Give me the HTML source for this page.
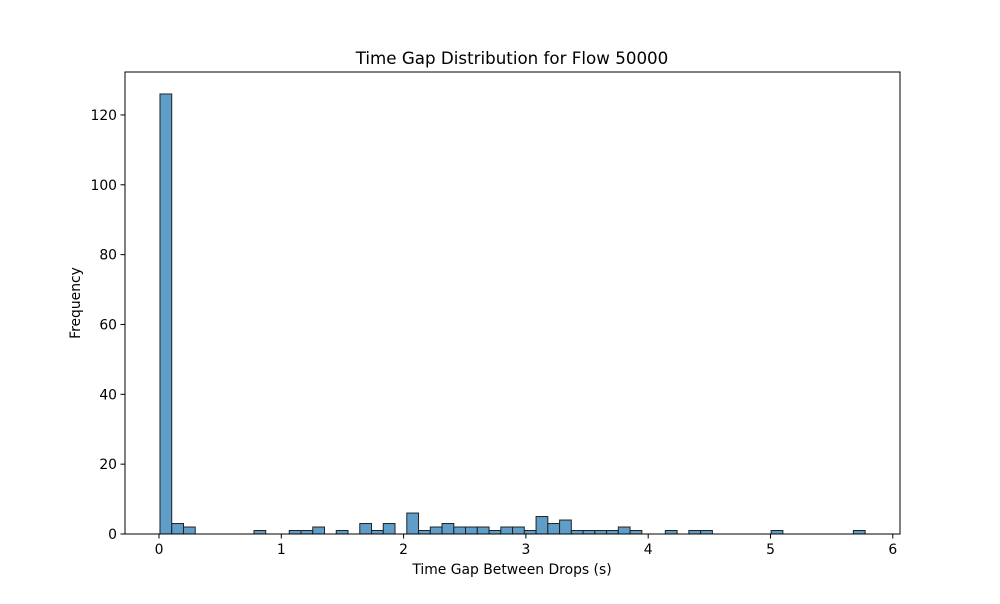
<!DOCTYPE html>
<html><head><meta charset="utf-8"><style>
body{margin:0;background:#fff;font-family:"DejaVu Sans","Liberation Sans",sans-serif}
</style></head><body>
<svg id="chart" width="1000" height="600" xmlns="http://www.w3.org/2000/svg" font-family="DejaVu Sans, Liberation Sans, sans-serif">
<rect width="1000" height="600" fill="#fff"/>
<text x="512" y="64" text-anchor="middle" font-size="16.7">Time Gap Distribution for Flow 50000</text>
<g id="bars"></g>
<rect x="125" y="72" width="775" height="462" fill="none" stroke="#000" stroke-width="1"/>
<g id="xt"></g><g id="yt"></g>
<text x="512" y="574" text-anchor="middle" font-size="13.9">Time Gap Between Drops (s)</text>
<text transform="translate(80,303) rotate(-90)" text-anchor="middle" font-size="13.9">Frequency</text>
</svg>
<script>
const binStart = 0.008;
const binWidth = 0.0961;
const counts = [126,3,2,0,0,0,0,0,1,0,0,1,1,2,0,1,0,3,1,3,0,6,1,2,3,2,2,2,1,2,2,1,5,3,4,1,1,1,1,2,1,0,0,1,0,1,1,0,0,0,0,0,1,0,0,0,0,0,0,1];
const xTicks = [0,1,2,3,4,5,6];
const yTicks = [0,20,40,60,80,100,120];
const NS="http://www.w3.org/2000/svg";
const X0=125,X1=900,Y0=534,Y1=72, xmin=-0.278, xmax=6.059, ymax=132.3;
const sx=v=>X0+(v-xmin)/(xmax-xmin)*(X1-X0);
const sy=v=>Y0-v/ymax*(Y0-Y1);
const bars=document.getElementById('bars');
counts.forEach((c,i)=>{
  if(!c) return;
  const r=document.createElementNS(NS,'rect');
  const a=sx(binStart+i*binWidth), b=sx(binStart+(i+1)*binWidth);
  r.setAttribute('x',a);r.setAttribute('width',b-a);
  r.setAttribute('y',sy(c));r.setAttribute('height',sy(0)-sy(c));
  r.setAttribute('fill','#5f9ec9');r.setAttribute('stroke','#222');r.setAttribute('stroke-width','1');
  
  
  bars.appendChild(r);
});
const xt=document.getElementById('xt');
xTicks.forEach(t=>{
  const x=sx(t);
  const l=document.createElementNS(NS,'line');
  l.setAttribute('x1',x);l.setAttribute('x2',x);l.setAttribute('y1',534);l.setAttribute('y2',538.5);l.setAttribute('stroke','#000');
  
  
  xt.appendChild(l);
  const s=document.createElementNS(NS,'text');
  s.setAttribute('x',x);s.setAttribute('y',554);s.setAttribute('text-anchor','middle');s.setAttribute('font-size','13.9');
  s.textContent=t;
  
  
  xt.appendChild(s);
});
const yt=document.getElementById('yt');
yTicks.forEach(t=>{
  const y=sy(t);
  const l=document.createElementNS(NS,'line');
  l.setAttribute('x1',120.5);l.setAttribute('x2',125);l.setAttribute('y1',y);l.setAttribute('y2',y);l.setAttribute('stroke','#000');
  
  
  yt.appendChild(l);
  const s=document.createElementNS(NS,'text');
  s.setAttribute('x',117);s.setAttribute('y',y+5);s.setAttribute('text-anchor','end');s.setAttribute('font-size','13.9');
  s.textContent=t;
  
  
  yt.appendChild(s);
});
</script>
</body></html>
